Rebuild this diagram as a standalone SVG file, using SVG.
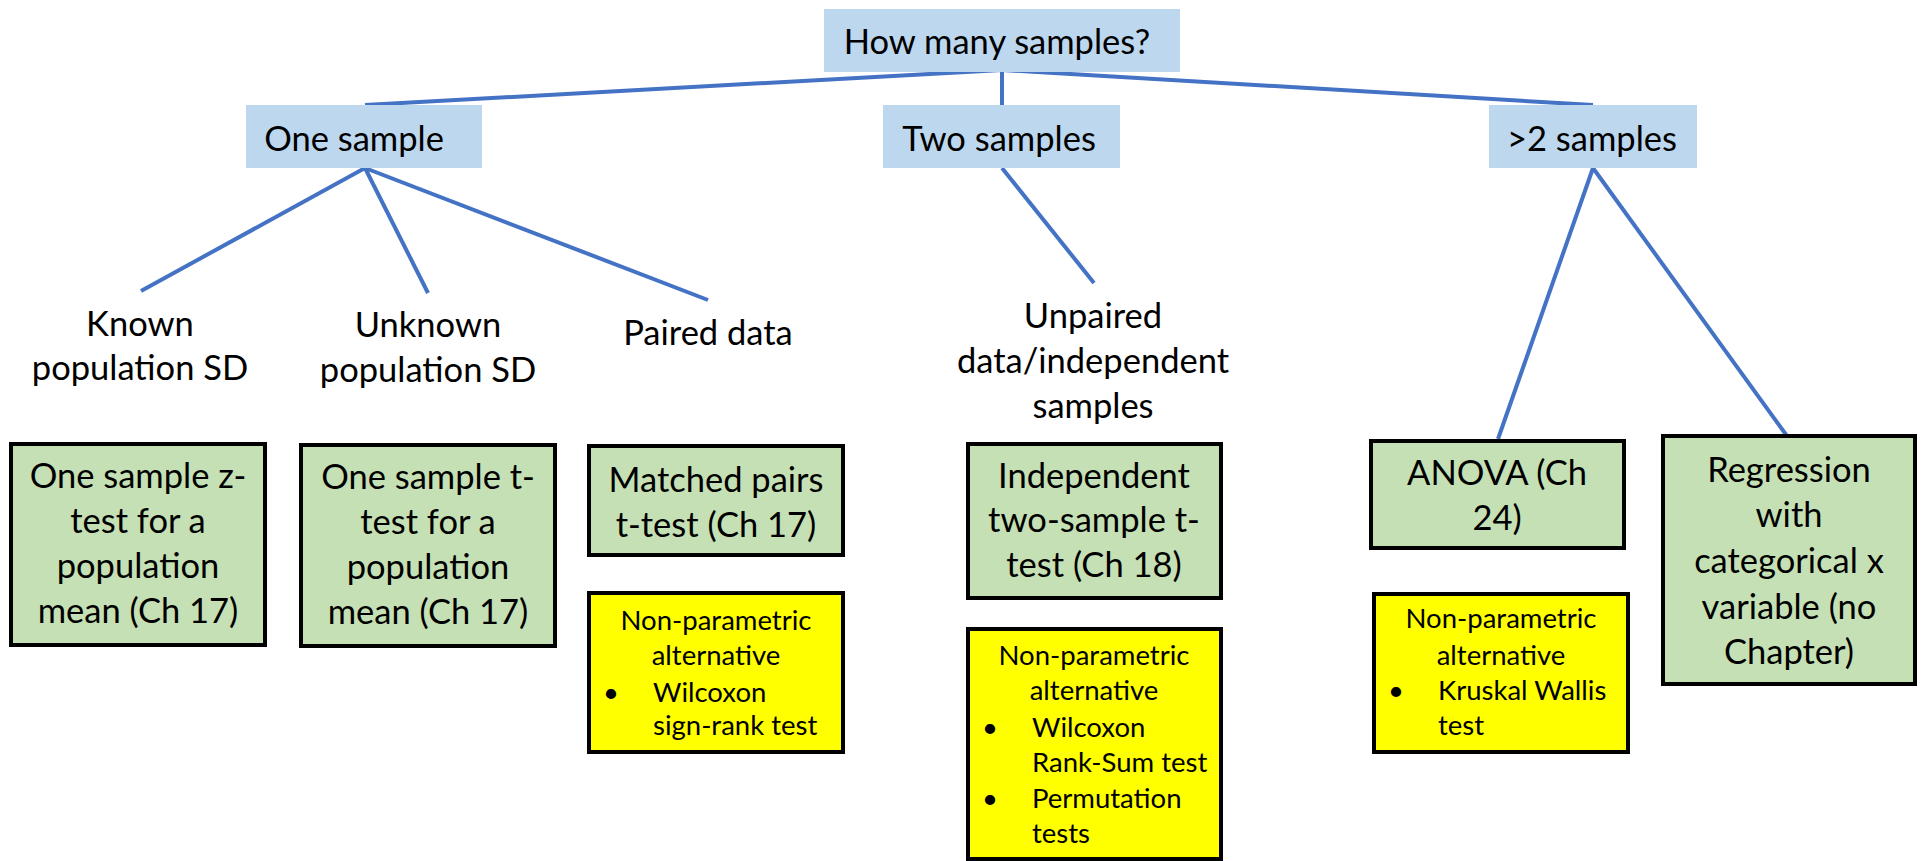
<svg xmlns="http://www.w3.org/2000/svg" width="1923" height="861" viewBox="0 0 1923 861">
<style>
text{font-family:Lato,"Liberation Sans",sans-serif;fill:#000}
.t{font-size:34.5px;text-anchor:middle}
.s{font-size:27.5px}
.c{text-anchor:middle}
.q{fill:#BDD7EE}
.g{fill:#C5E0B4;stroke:#000;stroke-width:4}
.y{fill:#FFFF00;stroke:#000;stroke-width:4}
.ln line{stroke:#4472C4;stroke-width:4;stroke-linecap:butt}
</style>
<rect width="1923" height="861" fill="#fff"/>
<g id="connectors" class="ln">
<line x1="1002" y1="70" x2="365" y2="105"/>
<line x1="1002" y1="70" x2="1593" y2="105"/>
<line x1="1002" y1="70" x2="1002" y2="105"/>
<line x1="365" y1="168" x2="141" y2="291"/>
<line x1="365" y1="168" x2="428" y2="293"/>
<line x1="365" y1="168" x2="708" y2="300"/>
<line x1="1002" y1="168" x2="1094" y2="283"/>
<line x1="1593" y1="168" x2="1498" y2="439"/>
<line x1="1593" y1="168" x2="1787" y2="436"/>
</g>
<g id="root"><rect class="q" x="824" y="9" width="356" height="63"/><text class="t" x="997" y="54">How many samples?</text></g>
<g id="one"><rect class="q" x="246" y="105" width="236" height="63"/><text class="t" x="354" y="151">One sample</text></g>
<g id="two"><rect class="q" x="883" y="105" width="237" height="63"/><text class="t" x="999" y="151">Two samples</text></g>
<g id="more"><rect class="q" x="1489" y="105" width="208" height="63"/><text class="t" x="1592" y="151">&gt;2 samples</text></g>
<g id="known"><text class="t" x="140" y="336">Known</text><text class="t" x="140" y="380">population SD</text></g>
<g id="unknown"><text class="t" x="428" y="337">Unknown</text><text class="t" x="428" y="382">population SD</text></g>
<g id="paired"><text class="t" x="708" y="345">Paired data</text></g>
<g id="unpaired"><text class="t" x="1093" y="328">Unpaired</text><text class="t" x="1093" y="373">data/independent</text><text class="t" x="1093" y="418">samples</text></g>
<g id="ztest"><rect class="g" x="11" y="444" width="254" height="201"/>
<text class="t" x="138" y="488">One sample z-</text><text class="t" x="138" y="533">test for a</text><text class="t" x="138" y="578">population</text><text class="t" x="138" y="623">mean (Ch 17)</text></g>
<g id="ttest"><rect class="g" x="301" y="445" width="254" height="201"/>
<text class="t" x="428" y="489">One sample t-</text><text class="t" x="428" y="534">test for a</text><text class="t" x="428" y="579">population</text><text class="t" x="428" y="624">mean (Ch 17)</text></g>
<g id="matched"><rect class="g" x="589" y="446" width="254" height="109"/>
<text class="t" x="716" y="492">Matched pairs</text><text class="t" x="716" y="537">t-test (Ch 17)</text></g>
<g id="independent"><rect class="g" x="968" y="444" width="253" height="154"/>
<text class="t" x="1094" y="488">Independent</text><text class="t" x="1094" y="532">two-sample t-</text><text class="t" x="1094" y="577">test (Ch 18)</text></g>
<g id="anova"><rect class="g" x="1371" y="441" width="253" height="107"/>
<text class="t" x="1497" y="485">ANOVA (Ch</text><text class="t" x="1497" y="530">24)</text></g>
<g id="regression"><rect class="g" x="1663" y="436" width="252" height="248"/>
<text class="t" x="1789" y="482">Regression</text><text class="t" x="1789" y="527">with</text><text class="t" x="1789" y="573">categorical x</text><text class="t" x="1789" y="619">variable (no</text><text class="t" x="1789" y="664">Chapter)</text></g>
<g id="np-matched"><rect class="y" x="589" y="593" width="254" height="159"/>
<text class="s c" x="716" y="630">Non-parametric</text><text class="s c" x="716" y="665">alternative</text>
<text class="s" x="603" y="702">•</text><text class="s" x="653" y="702">Wilcoxon</text><text class="s" x="653" y="735">sign-rank test</text></g>
<g id="np-independent"><rect class="y" x="968" y="629" width="253" height="230"/>
<text class="s c" x="1094" y="665">Non-parametric</text><text class="s c" x="1094" y="700">alternative</text>
<text class="s" x="982" y="737">•</text><text class="s" x="1032" y="737">Wilcoxon</text><text class="s" x="1032" y="772">Rank-Sum test</text>
<text class="s" x="982" y="808">•</text><text class="s" x="1032" y="808">Permutation</text><text class="s" x="1032" y="843">tests</text></g>
<g id="np-anova"><rect class="y" x="1374" y="594" width="254" height="158"/>
<text class="s c" x="1501" y="628">Non-parametric</text><text class="s c" x="1501" y="665">alternative</text>
<text class="s" x="1388" y="700">•</text><text class="s" x="1438" y="700">Kruskal Wallis</text><text class="s" x="1438" y="735">test</text></g>
</svg>
